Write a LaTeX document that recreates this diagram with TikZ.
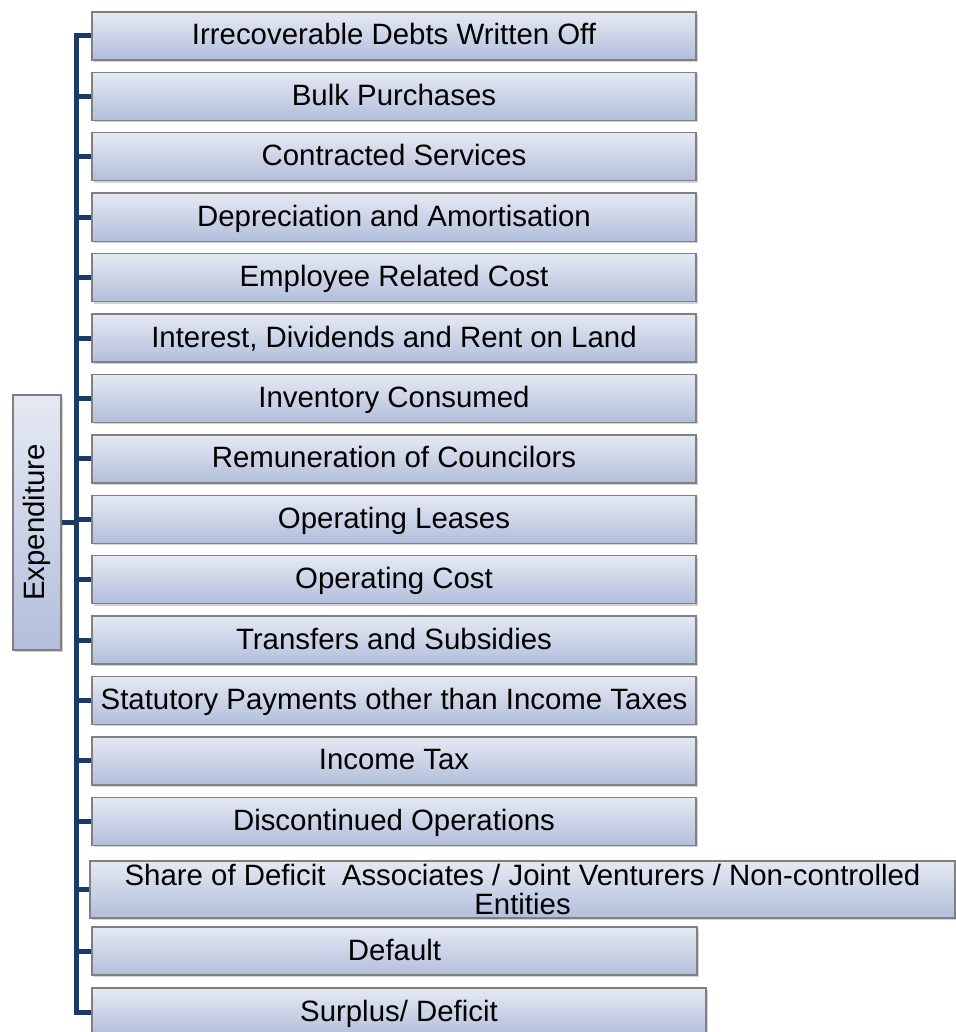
\documentclass[tikz,border=0pt]{standalone}
\usepackage{fontspec}
\setmainfont{Liberation Sans}
\usetikzlibrary{shadows}
\definecolor{linec}{HTML}{1B3A66}
\definecolor{boxtop}{HTML}{E5E9F3}
\definecolor{boxbot}{HTML}{B2BEDB}
\definecolor{boxedge}{HTML}{808080}
\tikzset{
  itembox/.style={rectangle, draw=boxedge, line width=1.4pt, top color=boxtop, bottom color=boxbot,
    minimum height=48pt, inner sep=0pt, font=\fontsize{29.4}{29.4}\selectfont,
    drop shadow={shadow xshift=1.5pt, shadow yshift=-2pt, opacity=0.35, fill=gray}},
  onebox/.style={itembox, text height=24pt, text depth=6pt},
  stdbox/.style={onebox, minimum width=604pt},
  conn/.style={draw=linec, line width=5pt},
}
\begin{document}
\begin{tikzpicture}[x=1pt,y=-1pt]
\useasboundingbox (0,0) rectangle (955,1032);
\coordinate (spine) at (76,0);
\node[stdbox] (b1) at (394,36) {Irrecoverable Debts Written Off};
\node[stdbox] (b2) at (394,96.4) {Bulk Purchases};
\node[stdbox] (b3) at (394,156.8) {Contracted Services};
\node[stdbox] (b4) at (394,217.2) {Depreciation and Amortisation};
\node[stdbox] (b5) at (394,277.6) {Employee Related Cost};
\node[stdbox] (b6) at (394,338) {Interest, Dividends and Rent on Land};
\node[stdbox] (b7) at (394,398.4) {Inventory Consumed};
\node[stdbox] (b8) at (394,458.8) {Remuneration of Councilors};
\node[stdbox] (b9) at (394,519.2) {Operating Leases};
\node[stdbox] (b10) at (394,579.6) {Operating Cost};
\node[stdbox] (b11) at (394,640) {Transfers and Subsidies};
\node[stdbox] (b12) at (394,700.4) {Statutory Payments other than Income Taxes};
\node[stdbox] (b13) at (394,760.8) {Income Tax};
\node[stdbox] (b14) at (394,821.2) {Discontinued Operations};
\node[itembox, minimum width=865pt, minimum height=57pt, align=center] (b15) at (522.5,889.5)
  {Share of Deficit\ \ Associates / Joint Venturers / Non-controlled\\Entities};
\node[stdbox, minimum width=605pt] (b16) at (394.5,951) {Default};
\node[onebox, minimum width=614pt] (b17) at (399,1012) {Surplus/ Deficit};
\node[itembox, minimum width=48pt, minimum height=255pt] (exp) at (37,522.5)
  {\rotatebox{90}{Expenditure}};
% connectors
\draw[conn] (b1.west) -- (b1.west -| spine) -- (b17.west -| spine) -- (b17.west);
\foreach \n in {b2,b3,b4,b5,b6,b7,b8,b9,b10,b11,b12,b13,b14,b15,b16}
  \draw[conn] (\n.west) -- (\n.west -| spine);
\draw[conn] (exp.east) -- (exp.east -| spine);
\end{tikzpicture}
\end{document}
